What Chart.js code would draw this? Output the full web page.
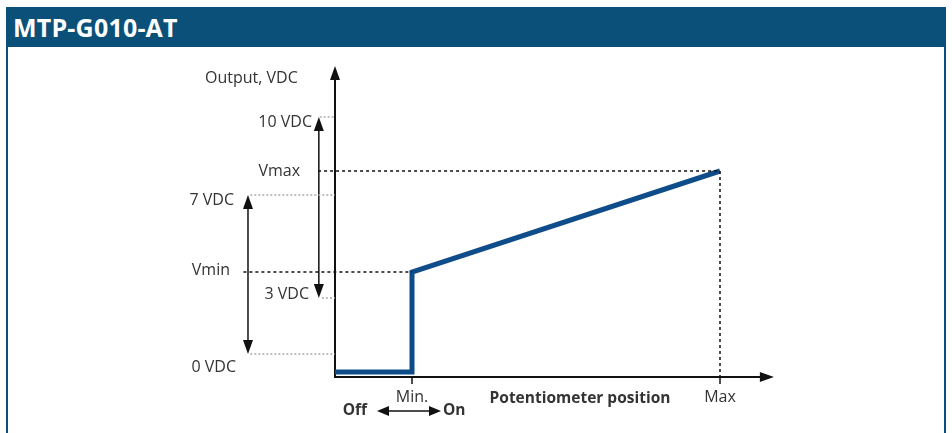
<!DOCTYPE html>
<html>
<head>
<meta charset="utf-8">
<script src="https://cdn.jsdelivr.net/npm/chart.js@4.4.1/dist/chart.umd.min.js"></script>
<style>
  html, body { margin: 0; padding: 0; background: #fff; }
  body { width: 952px; height: 433px; position: relative; overflow: hidden; }
  .panel { position: absolute; left: 6px; top: 7px; width: 936px; height: 440px; border: 2px solid #0b5079; border-top: none; }
  .panel-head { position: absolute; left: 6px; top: 7px; width: 940px; height: 40px; background: #0b5079; color: #fff;
    font: bold 25px 'Open Sans', sans-serif; line-height: 41px; padding-left: 7px; box-sizing: border-box; letter-spacing: 0.2px; }
  #chart { position: absolute; left: 0; top: 0; }
</style>
</head>
<body>
<div class="panel"></div>
<div class="panel-head">MTP-G010-AT</div>
<canvas id="chart" width="952" height="433"></canvas>
<script>
// ===== Schematic data (diagram units, not to scale) =====
const positionLabels = ['Min.', 'Max'];
const positionValues = [1, 5];

const outputX = [0, 1, 1, 5];
const outputY = [0.5, 0.5, 10.5, 20.6];

// voltage levels on the left side
const levelLabels = ['10 VDC', 'Vmax', '7 VDC', 'Vmin', '3 VDC', '0 VDC'];
const levelValues = [26, 20.6, 18.2, 10.5, 7.9, 2.3];

// range arrows: [from, to] level names
const rangeOuter = ['7 VDC', '0 VDC'];
const rangeInner = ['10 VDC', '3 VDC'];

const xMin = -2, xMax = 5.7;
const yMin = 0, yMax = 31.1;

const lvl = name => levelValues[levelLabels.indexOf(name)];

const colors = {
  output: '#0f4c8a',
  axis: '#111111',
  guide: '#aaaaaa',
  text: '#333333',
};

// ===== Datasets =====
const seg = (x0, x1, y0, y1) => [{ x: x0, y: y0 }, { x: x1, y: y1 }];

const datasets = [
  // gray dotted guides from level to axis
  { data: seg(-0.2, 0, lvl('10 VDC'), lvl('10 VDC')), borderColor: colors.guide, borderDash: [2, 2], borderWidth: 1.5 },
  { data: seg(-1.1, 0, lvl('7 VDC'), lvl('7 VDC')), borderColor: colors.guide, borderDash: [2, 2], borderWidth: 1.5 },
  { data: seg(-0.17, 0, lvl('3 VDC'), lvl('3 VDC')), borderColor: colors.guide, borderDash: [2, 2], borderWidth: 1.5 },
  { data: seg(-1.1, 0, lvl('0 VDC'), lvl('0 VDC')), borderColor: colors.guide, borderDash: [2, 2], borderWidth: 1.5 },
  // black dashed Vmin / Vmax / Max
  { data: seg(-1.19, positionValues[0], lvl('Vmin'), lvl('Vmin')), borderColor: colors.axis, borderDash: [3, 3], borderWidth: 1.5 },
  { data: seg(-0.22, positionValues[1], lvl('Vmax'), lvl('Vmax')), borderColor: colors.axis, borderDash: [3, 3], borderWidth: 1.5 },
  { data: seg(positionValues[1], positionValues[1], lvl('Vmax'), 0), borderColor: colors.axis, borderDash: [3, 3], borderWidth: 1.5 },
  // output curve
  { data: outputX.map((x, i) => ({ x, y: outputY[i] })), borderColor: colors.output, borderWidth: 5, borderJoinStyle: 'miter', borderCapStyle: 'butt' },
];
datasets.forEach(d => { d.pointRadius = 0; d.fill = false; d.tension = 0; });

// ===== Helpers =====
function arrowHead(ctx, x, y, dir, len = 14, half = 5) {
  ctx.save();
  ctx.translate(x, y);
  ctx.rotate(dir);
  ctx.beginPath();
  ctx.moveTo(0, 0);
  ctx.lineTo(-len, -half);
  ctx.lineTo(-len, half);
  ctx.closePath();
  ctx.fill();
  ctx.restore();
}

function line(ctx, x0, y0, x1, y1) {
  ctx.beginPath();
  ctx.moveTo(x0, y0);
  ctx.lineTo(x1, y1);
  ctx.stroke();
}

// ===== Axes, arrows and labels plugin =====
const schematic = {
  id: 'schematic',
  beforeDatasetsDraw(chart) {
    const { ctx, scales: { x, y } } = chart;
    ctx.save();
    ctx.strokeStyle = colors.axis;
    ctx.fillStyle = colors.axis;
    ctx.lineWidth = 2;
    const ox = x.getPixelForValue(0), oy = y.getPixelForValue(0);
    const tx = x.getPixelForValue(xMax), ty = y.getPixelForValue(yMax);
    line(ctx, ox, oy, ox, ty + 6);
    arrowHead(ctx, ox, ty, -Math.PI / 2);
    line(ctx, ox - 1, oy, tx - 6, oy);
    arrowHead(ctx, tx, oy, 0);
    // ticks at Min / Max
    ctx.lineWidth = 1.5;
    positionValues.forEach(v => {
      const px = x.getPixelForValue(v);
      line(ctx, px, oy, px, oy + 7);
    });
    // range arrows
    const drawRange = (xv, from, to) => {
      const px = x.getPixelForValue(xv);
      const y0 = y.getPixelForValue(lvl(from)), y1 = y.getPixelForValue(lvl(to));
      line(ctx, px, y0 + 8, px, y1 - 8);
      arrowHead(ctx, px, y0, -Math.PI / 2);
      arrowHead(ctx, px, y1, Math.PI / 2);
    };
    drawRange(-1.13, rangeOuter[0], rangeOuter[1]);
    drawRange(-0.21, rangeInner[0], rangeInner[1]);
    ctx.restore();
  },
  afterDatasetsDraw(chart) {
    const { ctx, scales: { x, y } } = chart;
    const ox = x.getPixelForValue(0), oy = y.getPixelForValue(0);
    ctx.save();
    ctx.fillStyle = colors.text;
    ctx.textBaseline = 'middle';
    ctx.font = "16px 'Open Sans', sans-serif";

    ctx.textAlign = 'left';
    ctx.fillText('Output, VDC', ox - 130, y.getPixelForValue(yMax) + 12);

    // level labels: [dx from axis, dy from level]
    const place = {
      '10 VDC': [-23, 5], 'Vmax': [-35, 0], '7 VDC': [-101, 5],
      'Vmin': [-105, -2], '3 VDC': [-26, -4], '0 VDC': [-99, 13],
    };
    ctx.textAlign = 'right';
    levelLabels.forEach(name => {
      const [dx, dy] = place[name];
      ctx.fillText(name, ox + dx, y.getPixelForValue(lvl(name)) + dy);
    });

    ctx.textAlign = 'center';
    positionLabels.forEach((name, i) => {
      ctx.fillText(name, x.getPixelForValue(positionValues[i]), oy + 20);
    });

    ctx.font = "bold 15.5px 'Open Sans', sans-serif";
    ctx.fillText('Potentiometer position', (x.getPixelForValue(positionValues[0]) + x.getPixelForValue(positionValues[1])) / 2 + 14, oy + 22);

    // Off <-> On
    const mx = x.getPixelForValue(positionValues[0]) - 3, ay = oy + 34;
    ctx.textAlign = 'right';
    ctx.fillText('Off', mx - 42, ay);
    ctx.textAlign = 'left';
    ctx.fillText('On', mx + 34, ay);
    ctx.strokeStyle = colors.axis;
    ctx.fillStyle = colors.axis;
    ctx.lineWidth = 1.5;
    line(ctx, mx - 22, ay, mx + 22, ay);
    arrowHead(ctx, mx - 32, ay, Math.PI, 12, 5);
    arrowHead(ctx, mx + 32, ay, 0, 12, 5);
    ctx.restore();
  }
};

// ===== Chart =====
const ctx = document.getElementById('chart').getContext('2d');
const pxPerX = 77, pxPerY = 10;
new Chart(ctx, {
  type: 'line',
  data: { datasets },
  options: {
    responsive: false,
    animation: false,
    layout: {
      padding: {
        left: 335 + xMin * pxPerX,
        right: 952 - (335 + xMax * pxPerX),
        top: 377 - yMax * pxPerY,
        bottom: 433 - 377,
      }
    },
    plugins: { legend: { display: false }, tooltip: { enabled: false } },
    scales: {
      x: { type: 'linear', min: xMin, max: xMax, display: false },
      y: { type: 'linear', min: yMin, max: yMax, display: false },
    }
  },
  plugins: [schematic]
});
</script>
</body>
</html>
